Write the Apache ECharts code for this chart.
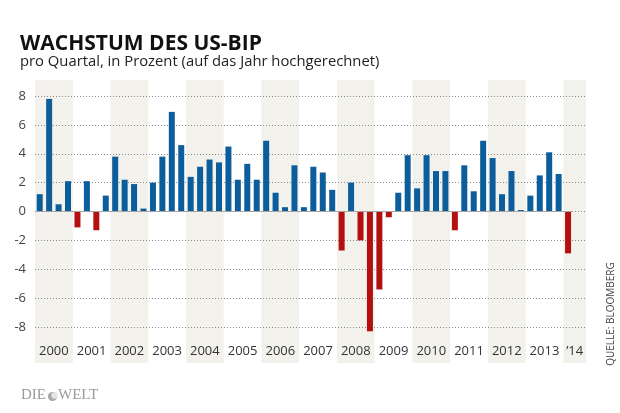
<!DOCTYPE html>
<html><head><meta charset="utf-8">
<script src="https://cdn.jsdelivr.net/npm/echarts@6/dist/echarts.min.js"></script>
<style>html,body{margin:0;padding:0;background:#fff}#c{width:620px;height:413px}</style>
</head><body><div id="c"></div>
<script>
// ---- data ----
const years = [2000,2001,2002,2003,2004,2005,2006,2007,2008,2009,2010,2011,2012,2013,2014];
const yearLabels = ['2000','2001','2002','2003','2004','2005','2006','2007','2008','2009','2010','2011','2012','2013','\u201914'];
// annualised quarterly GDP growth, %, Q1 2000 .. Q1 2014
const growth = [
  1.2, 7.8, 0.5, 2.1,    // 2000
 -1.1, 2.1,-1.3, 1.1,    // 2001
  3.8, 2.2, 1.9, 0.2,    // 2002
  2.0, 3.8, 6.9, 4.6,    // 2003
  2.4, 3.1, 3.6, 3.4,    // 2004
  4.5, 2.2, 3.3, 2.2,    // 2005
  4.9, 1.3, 0.3, 3.2,    // 2006
  0.3, 3.1, 2.7, 1.5,    // 2007
 -2.7, 2.0,-2.0,-8.3,    // 2008
 -5.4,-0.4, 1.3, 3.9,    // 2009
  1.6, 3.9, 2.8, 2.8,    // 2010
 -1.3, 3.2, 1.4, 4.9,    // 2011
  3.7, 1.2, 2.8, 0.1,    // 2012
  1.1, 2.5, 4.1, 2.6,    // 2013
 -2.9                    // 2014
];
const yTicks = [-8,-6,-4,-2,0,2,4,6,8];

const title = 'WACHSTUM DES US-BIP';
const subtitle = 'pro Quartal, in Prozent (auf das Jahr hochgerechnet)';
const source = 'QUELLE: BLOOMBERG';

// ---- chart ----
const BLUE = '#0b5d9b', RED = '#b3100f', BAND = '#f2f1ec';
const FONT = 'Open Sans';
const xMin = years[0], xMax = 2014.6;

const barData = growth.map((v, i) => ({
  value: [years[0] + (i + 0.5) / 4, v],
  itemStyle: { color: v < 0 ? RED : BLUE }
}));
const lastQuarterEnd = years[0] + growth.length / 4;

const chart = echarts.init(document.getElementById('c'), null, { renderer: 'canvas' });
chart.setOption({
  animation: false,
  backgroundColor: '#fff',
  grid: { left: 35, right: 34, top: 96, bottom: 86 },
  xAxis: {
    type: 'value', min: xMin, max: xMax,
    axisLine: { show: false }, axisTick: { show: false },
    axisLabel: { show: false }, splitLine: { show: false }
  },
  yAxis: {
    type: 'value', min: yTicks[0], max: yTicks[yTicks.length - 1], interval: 2,
    axisLine: { show: false }, axisTick: { show: false },
    axisLabel: { color: '#444', fontSize: 13, fontFamily: FONT, margin: 9 },
    splitLine: { lineStyle: { color: '#8a8a8a', type: [1, 2], width: 1 } }
  },
  series: [
    {
      type: 'custom', z: -1, silent: true, clip: false,
      data: years.filter((y, i) => i % 2 === 0).map(y => [y]),
      renderItem(params, api) {
        const y0 = api.value(0);
        const cs = params.coordSys;
        const xs = api.coord([y0, 0])[0];
        const xe = Math.min(api.coord([y0 + 1, 0])[0], cs.x + cs.width);
        const top = api.coord([y0, 8])[1] - 16;
        const bot = api.coord([y0, -8])[1] + 36;
        return { type: 'rect', shape: { x: xs, y: top, width: xe - xs, height: bot - top }, style: { fill: BAND } };
      }
    },
    {
      type: 'custom', z: 5, silent: true, clip: false,
      data: years.map((y, i) => [y, i]),
      renderItem(params, api) {
        const y0 = api.value(0);
        const idx = api.value(1);
        const cs = params.coordSys;
        const xs = api.coord([y0, 0])[0];
        const xe = Math.min(api.coord([y0 + 1, 0])[0], cs.x + cs.width);
        const yy = api.coord([y0, -8])[1] + 24;
        return { type: 'text', style: { x: (xs + xe) / 2, y: yy, text: yearLabels[idx], fill: '#333', font: '13px "' + FONT + '"', align: 'center', verticalAlign: 'middle' } };
      }
    },
    {
      type: 'bar', barWidth: 6, z: 3, clip: false,
      data: barData,
      markLine: {
        silent: true, symbol: 'none', label: { show: false },
        lineStyle: { color: '#a9a3a3', type: 'solid', width: 1 },
        data: [[{ coord: [xMin, 0] }, { coord: [lastQuarterEnd, 0] }]]
      }
    }
  ],
  graphic: [
    { type: 'text', left: 20, top: 34, style: { text: title, fill: '#111', font: 'bold 21px "' + FONT + '"' } },
    { type: 'text', left: 20, top: 54, style: { text: subtitle, fill: '#222', font: '14.8px "' + FONT + '"' } },
    { type: 'text', x: 611, y: 314, rotation: Math.PI / 2, style: { text: source, fill: '#444', font: '10px "' + FONT + '"', align: 'center', verticalAlign: 'middle' } },
    { type: 'text', left: 21, top: 388, style: { text: 'DIE', fill: '#9a9a9a', font: '15px "Liberation Serif"' } },
    { type: 'circle', shape: { cx: 52.5, cy: 396.5, r: 4.6 }, style: { fill: '#a8a8a8' } },
    { type: 'circle', shape: { cx: 54.5, cy: 395.5, r: 3.2 }, style: { fill: '#e4e4e4' } },
    { type: 'text', left: 58, top: 388, style: { text: 'WELT', fill: '#9a9a9a', font: '15px "Liberation Serif"' } }
  ]
});
</script></body></html>
